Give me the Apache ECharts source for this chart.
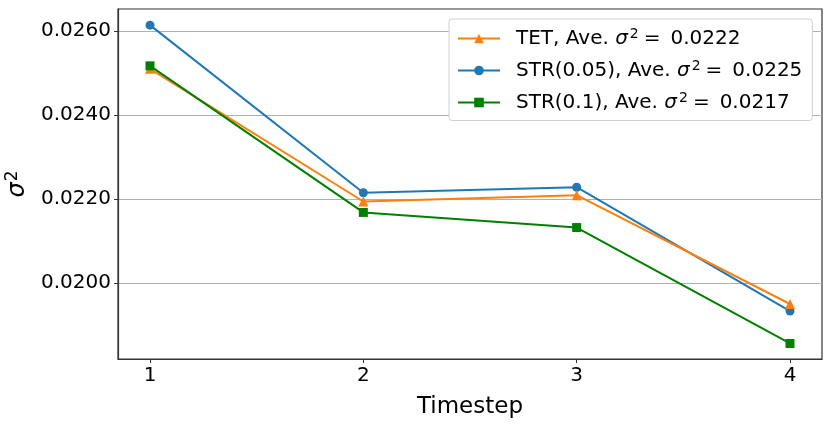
<!DOCTYPE html>
<html>
<head>
<meta charset="utf-8">
<script src="https://cdn.jsdelivr.net/npm/echarts@6/dist/echarts.min.js"></script>
<style>
html,body{margin:0;padding:0;background:#fff;}
#c{width:831px;height:425px;}
</style>
</head>
<body>
<div id="c"></div>
<script>
const timesteps = [1, 2, 3, 4];
const tetValues = [0.02510, 0.02194, 0.02209, 0.01950];
const str005Values = [0.02614, 0.02215, 0.02228, 0.01933];
const str01Values = [0.02517, 0.02168, 0.02132, 0.01856];
const seriesNames = ['TET', 'STR(0.05)', 'STR(0.1)'];
const aveValues = ['0.0222', '0.0225', '0.0217'];
const yTicks = [0.0200, 0.0220, 0.0240, 0.0260];
const xTicks = [1, 2, 3, 4];

const FONT = 'DejaVu Sans';
const pairs = v => timesteps.map((t, i) => [t, v[i]]);

const chart = echarts.init(document.getElementById('c'), null, {renderer: 'canvas'});
const legendMap = {};
seriesNames.forEach((n, i) => { legendMap[n] = aveValues[i]; });

chart.setOption({
  animation: false,
  backgroundColor: '#fff',
  grid: {left: 118, right: 9, top: 9, bottom: 66, containLabel: false, outerBoundsMode: 'none',
    show: true, borderColor: '#333', borderWidth: 1.2, backgroundColor: 'transparent'},
  legend: {
    orient: 'vertical',
    left: 449, top: 19,
    padding: [8, 10, 8, 8],
    backgroundColor: '#fff',
    borderColor: '#d0d0d0', borderWidth: 1, borderRadius: 3,
    itemWidth: 42, itemHeight: 12, itemGap: 10.5,
    data: seriesNames,
    formatter: n => '{t|' + n + ', Ave. }{i|σ}{s|2}{e|=}{t|' + legendMap[n] + '}',
    textStyle: {
      fontFamily: FONT, fontSize: 20, color: '#000', padding: [0, 0, 0, 11],
      rich: {
        t: {fontFamily: FONT, fontSize: 20, color: '#000'},
        e: {fontFamily: FONT, fontSize: 20, color: '#000', padding: [0, 10, 0, 4]},
        i: {fontFamily: FONT, fontSize: 20, fontStyle: 'italic', color: '#000'},
        s: {fontFamily: FONT, fontSize: 14, color: '#000', verticalAlign: 'top', padding: [0, 1, 9, 2]}
      }
    }
  },
  xAxis: {
    type: 'value', min: 0.85, max: 4.15,
    name: 'Timestep', nameLocation: 'middle', nameGap: 37,
    nameTextStyle: {fontFamily: FONT, fontSize: 23, color: '#000'},
    axisLine: {show: true, onZero: false, lineStyle: {color: '#333', width: 1.2}},
    axisTick: {show: true, length: 4, customValues: xTicks, lineStyle: {color: '#333'}},
    axisLabel: {customValues: xTicks, fontFamily: FONT, fontSize: 20, color: '#000', margin: 7},
    splitLine: {show: false}
  },
  yAxis: {
    type: 'value', min: 0.01819, max: 0.026524,
    name: '{i|σ}{s|2}', nameLocation: 'middle', nameGap: 78, nameRotate: 90,
    nameTextStyle: {
      fontFamily: FONT, fontSize: 24, color: '#000',
      rich: {
        i: {fontFamily: FONT, fontSize: 24, fontStyle: 'italic', color: '#000'},
        s: {fontFamily: FONT, fontSize: 17, color: '#000', verticalAlign: 'top', padding: [0, 0, 11, 1]}
      }
    },
    axisLine: {show: true, lineStyle: {color: '#333', width: 1.2}},
    axisTick: {show: true, length: 4, customValues: yTicks, lineStyle: {color: '#333'}},
    axisLabel: {customValues: yTicks, fontFamily: FONT, fontSize: 20, color: '#000', margin: 7,
      formatter: v => v.toFixed(4)},
    splitLine: {show: true, lineStyle: {color: '#b0b0b0', width: 1}}
  },
  series: [
    {name: seriesNames[0], type: 'line', data: pairs(tetValues), color: '#ff7f0e',
     symbol: 'triangle', symbolSize: 10, lineStyle: {width: 2}, z: 3},
    {name: seriesNames[1], type: 'line', data: pairs(str005Values), color: '#1f77b4',
     symbol: 'circle', symbolSize: 9, lineStyle: {width: 2}, z: 2},
    {name: seriesNames[2], type: 'line', data: pairs(str01Values), color: '#008000',
     symbol: 'rect', symbolSize: 9, lineStyle: {width: 2}, z: 4}
  ]
});
</script>
</body>
</html>
